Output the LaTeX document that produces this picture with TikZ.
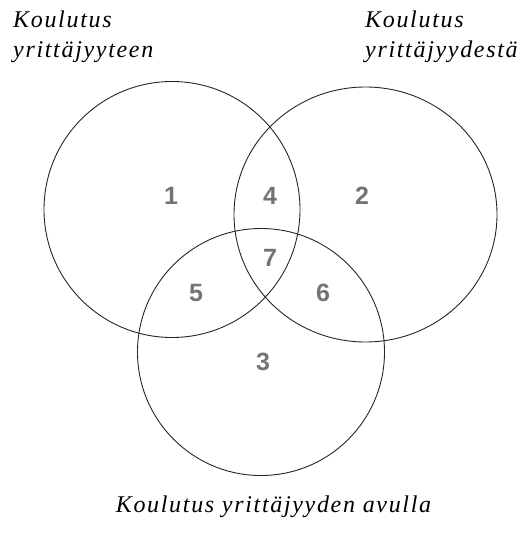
\documentclass[tikz,border=0pt]{standalone}
\usepackage{fontspec}
\setmainfont{Liberation Serif}
\newfontfamily\labfont[LetterSpace=7]{Liberation Serif}
\newfontfamily\numfont{Liberation Sans}
\definecolor{numgray}{HTML}{737373}
\begin{document}
\begin{tikzpicture}[x=1pt,y=-1pt,
  ring/.style={draw=black!85,line width=0.9pt},
  lab/.style={anchor=base west,inner sep=0pt,font=\labfont\itshape\fontsize{24}{24}\selectfont},
  num/.style={anchor=center,inner sep=0pt,text=numgray,font=\numfont\bfseries\fontsize{25}{25}\selectfont}]
\useasboundingbox (0,0) rectangle (523,533);
\draw[ring] (172,209.5) circle[radius=128];
\draw[ring] (365.5,214.5) ellipse[x radius=131.5,y radius=127.5];
\draw[ring] (261,352) circle[radius=123.5];
\node[lab] (l1a) at (13,27) {Koulutus};
\node[lab] (l1b) at (13,57) {yrittäjyyteen};
\node[lab] (l2a) at (365,27) {Koulutus};
\node[lab] (l2b) at (365,57) {yrittäjyydestä};
\node[lab,anchor=base] (l3) at (273.5,512) {Koulutus yrittäjyyden avulla};
\node[num] (n1) at (171,196) {1};
\node[num] (n4) at (270,196) {4};
\node[num] (n2) at (362,196) {2};
\node[num] (n7) at (270,258) {7};
\node[num] (n5) at (196,293) {5};
\node[num] (n6) at (323,293) {6};
\node[num] (n3) at (263,362) {3};
\end{tikzpicture}
\end{document}
